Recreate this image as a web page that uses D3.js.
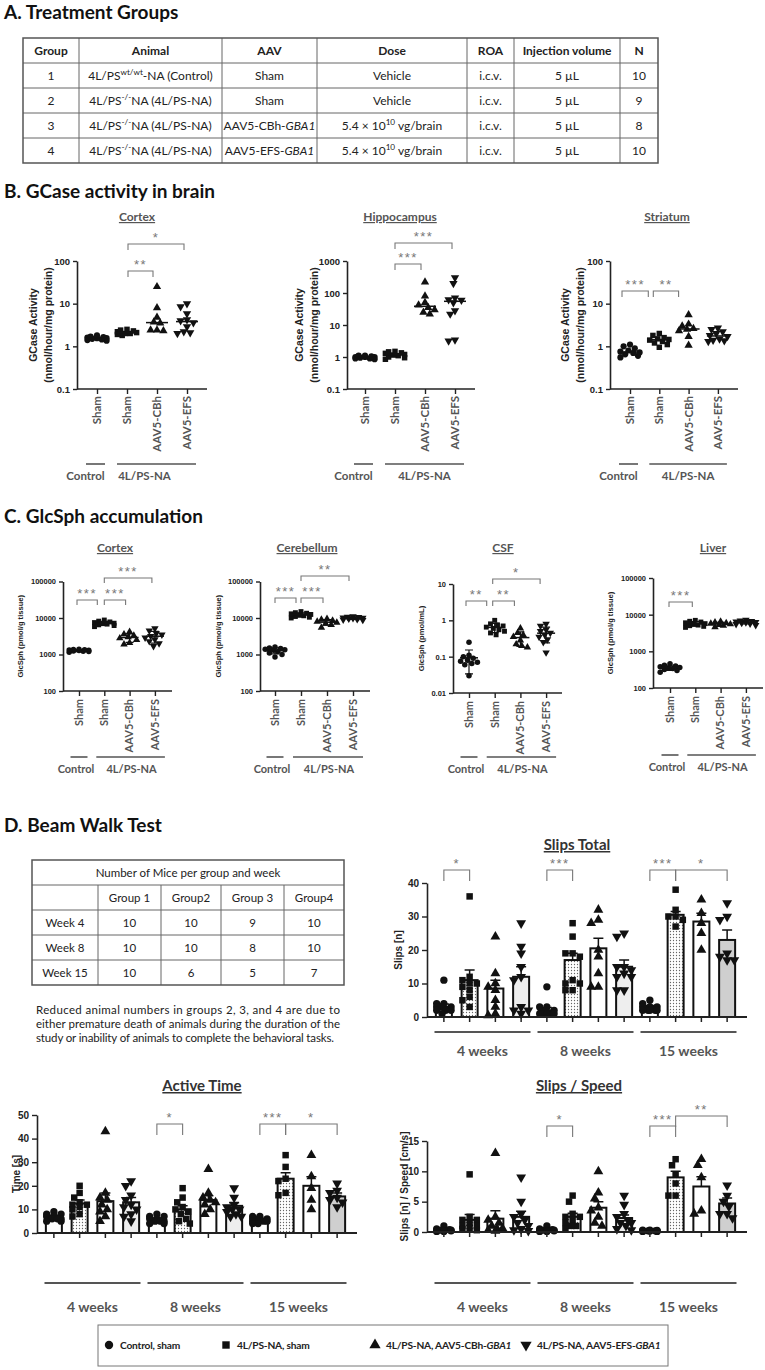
<!DOCTYPE html>
<html><head><meta charset="utf-8">
<script src="https://cdn.jsdelivr.net/npm/d3@7"></script>
<style>body{margin:0;background:#fff}svg{display:block}</style>
</head><body><script>
// ================= DATA =================
const sectionTitles = ["A. Treatment Groups","B. GCase activity in brain","C. GlcSph accumulation","D. Beam Walk Test"];

const tableAHeader = ["Group","Animal","AAV","Dose","ROA","Injection volume","N"];
const tableARows = [
  ["1","4L/PS^{wt/wt}-NA (Control)","Sham","Vehicle","i.c.v.","5 µL","10"],
  ["2","4L/PS^{-/-}NA (4L/PS-NA)","Sham","Vehicle","i.c.v.","5 µL","9"],
  ["3","4L/PS^{-/-}NA (4L/PS-NA)","AAV5-CBh-_GBA1_","5.4 × 10^{10} vg/brain","i.c.v.","5 µL","8"],
  ["4","4L/PS^{-/-}NA (4L/PS-NA)","AAV5-EFS-_GBA1_","5.4 × 10^{10} vg/brain","i.c.v.","5 µL","10"]
];

const tableDTitle = "Number of Mice per group and week";
const tableDHeader = ["","Group 1","Group2","Group 3","Group4"];
const tableDRows = [
  ["Week 4","10","10","9","10"],
  ["Week 8","10","10","8","10"],
  ["Week 15","10","6","5","7"]
];
const noteLines = [
  "Reduced animal  numbers in groups 2, 3, and 4 are  due to",
  "either premature death of animals during the duration of the",
  "study or inability of animals to complete the  behavioral tasks."
];

const catLabels = ["Sham","Sham","AAV5-CBh","AAV5-EFS"];
const groupLabels = ["Control","4L/PS-NA"];

// B. GCase activity (nmol/hour/mg protein)
const gcaseCortex = [
  [1.35,1.4,1.45,1.5,1.55,1.55,1.6,1.65,1.7,1.8],
  [1.8,1.9,2.0,2.0,2.1,2.2,2.3,2.4,2.5],
  [2.3,2.4,2.4,3.5,3.7,4.8,8.0,25],
  [2.0,2.1,2.2,2.9,3.6,4.0,4.2,5.8,8.5,10]
];
const gcaseHippocampus = [
  [0.85,0.9,0.9,0.95,1.0,1.0,1.0,1.05,1.1,1.1],
  [0.85,0.95,1.0,1.1,1.15,1.2,1.3,1.35,1.45,1.5],
  [22,25,30,35,42,50,80,220],
  [3.2,3.4,22,28,50,60,62,70,200,300]
];
const gcaseStriatum = [
  [0.55,0.6,0.65,0.7,0.72,0.75,0.8,0.9,1.0,1.1],
  [0.95,1.1,1.2,1.3,1.4,1.45,1.5,1.6,1.8,2.0],
  [1.05,1.7,2.3,2.5,2.6,3.0,3.3,5.5],
  [1.3,1.35,1.4,1.5,1.7,1.8,2.0,2.2,2.5,2.7]
];
const gcaseTicksCortex = [0.1,1,10,100];
const gcaseTicksHippocampus = [0.1,1,10,100,1000];
const gcaseTicksStriatum = [0.1,1,10,100];
const sigGcaseCortex = [[1,2,"**"],[1,3,"*"]];
const sigGcaseHippocampus = [[1,2,"***"],[1,3,"***"]];
const sigGcaseStriatum = [[0,1,"***"],[1,2,"**"]];

// C. GlcSph
const glcCortex = [
  [1150,1200,1220,1250,1280,1300,1320,1350,1380,1400],
  [5800,6200,6500,6800,7000,7200,7500,7800,8200,8800],
  [1900,2100,2500,2800,3000,3300,3600,4200],
  [1700,2000,2300,2600,2900,3200,3500,3800,4500,5200]
];
const glcCerebellum = [
  [850,1000,1100,1200,1300,1350,1400,1450,1500,1600],
  [10000,10500,11000,11500,12000,12500,13000,13500,14000,15000],
  [5500,6500,7000,7500,8000,8500,9000,9500],
  [8800,9000,9200,9500,9800,10000,10200,10500,10800,11000]
];
const glcCSF = [
  [0.03,0.06,0.065,0.07,0.075,0.08,0.09,0.1,0.11,0.25],
  [0.4,0.45,0.5,0.55,0.6,0.65,0.7,0.75,0.8,1.0],
  [0.18,0.2,0.22,0.28,0.35,0.4,0.45,0.6],
  [0.13,0.25,0.3,0.35,0.4,0.45,0.5,0.55,0.7,0.8]
];
const glcLiver = [
  [270,300,320,340,350,360,380,400,420,460],
  [4500,4800,5000,5200,5500,5700,6000,6300,6600,7000],
  [4600,5000,5300,5500,5700,5900,6200,6500],
  [5200,5500,5700,5900,6100,6300,6500,6700,6900,7200]
];
const glcTicksTissue = [100,1000,10000,100000];
const glcTicksCSF = [0.01,0.1,1,10];
const sigGlcCortex = [[0,1,"***"],[1,2,"***"],[1,3,"***"]];
const sigGlcCerebellum = [[0,1,"***"],[1,2,"***"],[1,3,"**"]];
const sigGlcCSF = [[0,1,"**"],[1,2,"**"],[1,3,"*"]];
const sigGlcLiver = [[0,1,"***"]];

// D. Beam walk (rows = weeks, columns = groups)
const weekLabels = ["4 weeks","8 weeks","15 weeks"];
const slipsMean = [[3,11,8.5,12],[2,17,20.5,15],[3,30.5,28.5,23]];
const slipsSem  = [[0.9,3,2.5,3],[0.8,2,3,2],[0.4,1,2.5,3]];
const slipsPts = [
  [[11,4,4,3,3,3,2,2,2,1],[36,12,11,10,10,9,8,6,5,3],[24,13,10,9,8,5,3,1,0.5],[28,21,19,15,12,11,3,2,2,1]],
  [[9,3,3,2,2,1,1,1,1,1],[28,24,19,19,18,11,10,10,8,8],[32,29,28,20,18,13,9,9],[25,24,15,15,14,13,12,12,8,8]],
  [[5,4,3,3,3,2,2,2,2,2],[38,32,30,30,29,27],[35,31,28,25,20],[34,30,29,19,18,17,17]]
];
const timeMean = [[7,12.5,13.5,13],[6,10,14,11.5],[5.5,23,20,15.5]];
const timeSem  = [[0.5,1.5,3.5,2],[0.4,1.5,1.8,1.3],[0.3,2.5,3.8,1.5]];
const timePts = [
  [[9,8,8,7,7,6,6,6,5,5],[20,17,15,13,12,12,11,10,8,7],[43,17,15,14,12,10,9,7,5],[22,20,16,14,12,11,10,8,7,5]],
  [[8,7,7,6,6,5,5,5,4,4],[19,15,13,11,10,9,8,6,5,4],[27,17,15,14,13,12,10,8],[19,15,12,11,10,10,9,8,7,7]],
  [[7,7,6,6,6,5,5,5,4,4],[33,28,23,22,17,16],[33,24,19,14,10],[21,18,17,15,14,13,11]]
];
const ssMean = [[0.3,2,2.2,2.5],[0.3,2.5,4,2.3],[0.2,9,7.5,4.7]];
const ssSem  = [[0.1,0.9,1.3,0.9],[0.1,0.6,1,0.5],[0.03,1,1.6,0.9]];
const ssPts = [
  [[1,0.5,0.4,0.3,0.3,0.2,0.2,0.2,0.1,0.1],[9.5,2.5,2,2,1.5,1,1,0.7,0.5,0.3],[13,2.5,2,1.5,1,0.6,0.5,0.3,0.2],[9,5,3,2.5,2,1.5,1,0.5,0.3,0.2]],
  [[1,0.5,0.4,0.3,0.3,0.2,0.2,0.2,0.1,0.1],[6,5,3,2.5,2.5,2,1.5,1,1,0.5],[10,6.5,5.5,4,3.5,2.5,1.5,1],[6,4.5,3,2.5,2,1.5,1.5,1,0.5,0.3]],
  [[0.3,0.3,0.25,0.2,0.2,0.2,0.15,0.15,0.1,0.1],[12,11,9.5,8,6,6],[12,11,9,3.5,3],[7.7,6,5,4.2,3,3,2.3]]
];
const slipsTicks = [0,10,20,30,40];
const timeTicks = [0,10,20,30,40,50];
const ssTicks = [0,5,10,15];
const sigSlips = [[0,1,"*"],[4,5,"***"],[8,9,"***"],[9,11,"*"]];
const sigTime = [[4,5,"*"],[8,9,"***"],[9,11,"*"]];
const sigSS = [[4,5,"*"],[8,9,"***"],[9,11,"**"]];

const legendLabels = ["Control, sham","4L/PS-NA, sham","4L/PS-NA, AAV5-CBh-_GBA1_","4L/PS-NA, AAV5-EFS-_GBA1_"];

// ================= RENDER =================
const FT = "Lato, 'Open Sans', sans-serif";
const FA = "'Liberation Sans', Arial, sans-serif";
const svg = d3.select("body").append("svg").attr("width",765).attr("height",1370);
svg.append("rect").attr("width",765).attr("height",1370).attr("fill","#fff");
const defs = svg.append("defs");
const pat = defs.append("pattern").attr("id","dots").attr("width",3).attr("height",3).attr("patternUnits","userSpaceOnUse");
pat.append("rect").attr("width",3).attr("height",3).attr("fill","#fff");
pat.append("circle").attr("cx",1.5).attr("cy",1.5).attr("r",0.65).attr("fill","#666");

const symTypes = [d3.symbolCircle,d3.symbolSquare,d3.symbolTriangle,d3.symbolTriangle];

function rich(sel, str, fs){
  const parts = str.split(/(\^\{[^}]*\}|_[^_]+_)/).filter(s=>s.length);
  let shifted = false;
  parts.forEach(p=>{
    if(p.startsWith("^{")){
      sel.append("tspan").attr("dy",-fs*0.38).attr("font-size",fs*0.68).text(p.slice(2,-1));
      shifted = true;
    } else {
      const t = sel.append("tspan");
      if(shifted){ t.attr("dy",fs*0.38); shifted=false; }
      if(p.startsWith("_")) t.attr("font-style","italic").text(p.slice(1,-1));
      else t.text(p);
    }
  });
}

// section titles
const titleY = [19,198,523,832];
sectionTitles.forEach((t,i)=>svg.append("text").attr("x",4).attr("y",titleY[i])
  .attr("font-family",FT).attr("font-weight","bold").attr("font-size",19).attr("fill","#111").text(t));

// ---- Table A ----
(function(){
  const colX=[23,79,222,317,467,514,620,658];
  const y0=38, rh=25, fs=12;
  const g=svg.append("g").attr("font-family",FT).attr("font-size",fs).attr("fill","#222");
  const rows=[tableAHeader,...tableARows];
  rows.forEach((r,ri)=>r.forEach((c,ci)=>{
    const t=g.append("text").attr("x",(colX[ci]+colX[ci+1])/2).attr("y",y0+ri*rh+rh/2+4)
      .attr("text-anchor","middle").attr("font-weight",ri===0?"bold":"normal");
    rich(t,c,fs);
  }));
  for(let i=1;i<rows.length;i++) g.append("line").attr("x1",colX[0]).attr("x2",colX[7]).attr("y1",y0+i*rh).attr("y2",y0+i*rh).attr("stroke","#666").attr("stroke-width",1);
  for(let i=1;i<colX.length-1;i++) g.append("line").attr("x1",colX[i]).attr("x2",colX[i]).attr("y1",y0).attr("y2",y0+rows.length*rh).attr("stroke","#666").attr("stroke-width",1);
  g.append("rect").attr("x",colX[0]).attr("y",y0).attr("width",colX[7]-colX[0]).attr("height",rows.length*rh).attr("fill","none").attr("stroke","#555").attr("stroke-width",1.5);
})();

// ---- Table D ----
(function(){
  const colX=[32,98,161,221,284,344];
  const y0=860, rh=25, fs=11.5;
  const g=svg.append("g").attr("font-family",FT).attr("font-size",fs).attr("fill","#222");
  g.append("text").attr("x",(colX[0]+colX[5])/2).attr("y",y0+rh/2+4).attr("text-anchor","middle").text(tableDTitle);
  const rows=[tableDHeader,...tableDRows];
  rows.forEach((r,ri)=>r.forEach((c,ci)=>{
    g.append("text").attr("x",(colX[ci]+colX[ci+1])/2).attr("y",y0+(ri+1)*rh+rh/2+4).attr("text-anchor","middle").text(c);
  }));
  for(let i=1;i<=rows.length;i++) g.append("line").attr("x1",colX[0]).attr("x2",colX[5]).attr("y1",y0+i*rh).attr("y2",y0+i*rh).attr("stroke","#666");
  for(let i=1;i<colX.length-1;i++) g.append("line").attr("x1",colX[i]).attr("x2",colX[i]).attr("y1",y0+rh).attr("y2",y0+(rows.length+1)*rh).attr("stroke","#666");
  g.append("rect").attr("x",colX[0]).attr("y",y0).attr("width",colX[5]-colX[0]).attr("height",(rows.length+1)*rh).attr("fill","none").attr("stroke","#555").attr("stroke-width",1.5);
  const lens=[304,304,298];
  noteLines.forEach((l,i)=>g.append("text").attr("x",36).attr("y",1014+i*14).attr("font-size",11.5)
    .attr("textLength",lens[i]).attr("lengthAdjust","spacing").text(l));
})();

// ---- helpers ----
function swarm(vals, y, cx, r, maxDx){
  const order = vals.map((v,i)=>({v,i,py:y(v)})).sort((a,b)=>a.py-b.py);
  const placed=[], out=[];
  const md = 2*r*0.9;
  for(const p of order){
    let best=0, bestScore=Infinity;
    for(let k=0;k<=24;k++){
      for(const s of (k===0?[0]:[-1,1])){
        const dx=s*k*r*0.5;
        if(Math.abs(dx)>maxDx) continue;
        let ov=0;
        for(const q of placed){const d=Math.hypot(q.x-(cx+dx),q.y-p.py); if(d<md) ov+=md-d;}
        const sc=ov*10+Math.abs(dx)*0.05;
        if(sc<bestScore){bestScore=sc;best=dx;}
      }
    }
    placed.push({x:cx+best,y:p.py});
    out[p.i]={x:cx+best,y:p.py,v:p.v};
  }
  return out;
}
function drawMarkers(g, pos, k, size){
  g.selectAll(null).data(pos).join("path")
    .attr("d",d3.symbol(symTypes[k],size))
    .attr("transform",d=>`translate(${d.x},${d.y})${k===3?" rotate(180)":""}`)
    .attr("fill","#111");
}
function bracket(g,x1,x2,yb,leg,label,fs){
  g.append("path").attr("d",`M${x1},${yb+leg}V${yb}H${x2}V${yb+leg}`).attr("fill","none").attr("stroke","#777").attr("stroke-width",1.1);
  g.append("text").attr("x",(x1+x2)/2).attr("y",yb-2).attr("text-anchor","middle").attr("font-family",FA)
    .attr("font-size",fs||13).attr("letter-spacing",1.5).attr("fill","#777").text(label);
}
function styleAxis(a, fs){
  a.select(".domain").attr("stroke","#222").attr("stroke-width",1.6);
  a.selectAll(".tick line").attr("stroke","#222").attr("stroke-width",1.4);
  a.selectAll(".tick text").attr("font-family",FA).attr("font-weight","bold").attr("font-size",fs).attr("fill","#222");
}
const logFmt = v => v<1 ? String(v) : d3.format("d")(v);

function scatterPanel(L, title, vals, sigs, ticks, ylab){
  const g=svg.append("g");
  const y=d3.scaleLog().domain([ticks[0],ticks[ticks.length-1]]).range([L.yBot,L.yTop]);
  const x=d3.scalePoint().domain(d3.range(vals.length)).range([L.cat0,L.cat0+L.step*(vals.length-1)]);
  g.append("text").attr("x",L.titleX).attr("y",L.titleY).attr("text-anchor","middle").attr("font-family",FT)
    .attr("font-weight","bold").attr("font-size",L.titleFs).attr("fill","#555").attr("text-decoration","underline").text(title);
  vals.forEach((arr,k)=>{
    const pos=swarm(arr,y,x(k),L.r,L.maxDx);
    drawMarkers(g,pos,k,L.size);
    const c = L.stat==="median" ? d3.median(arr) : d3.mean(arr);
    g.append("line").attr("x1",x(k)-L.lineW/2).attr("x2",x(k)+L.lineW/2).attr("y1",y(c)).attr("y2",y(c)).attr("stroke","#111").attr("stroke-width",1.5);
    if(L.stat==="mean"){
      const sd=d3.deviation(arr);
      const lo=Math.max(c-sd,ticks[0]), hi=c+sd;
      g.append("path").attr("d",`M${x(k)},${y(lo)}V${y(hi)}M${x(k)-4},${y(lo)}H${x(k)+4}M${x(k)-4},${y(hi)}H${x(k)+4}`)
        .attr("stroke","#111").attr("stroke-width",1.2).attr("fill","none");
    }
  });
  const ya=g.append("g").attr("transform",`translate(${L.axisX},0)`)
    .call(d3.axisLeft(y).tickValues(ticks).tickFormat(logFmt).tickSize(4).tickSizeOuter(0));
  styleAxis(ya,L.tickFs);
  g.append("line").attr("x1",L.axisX).attr("x2",L.xEnd).attr("y1",L.yBot).attr("y2",L.yBot).attr("stroke","#222").attr("stroke-width",1.6);
  const xa=g.append("g").attr("transform",`translate(0,${L.yBot})`).call(d3.axisBottom(x).tickSize(5).tickFormat(""));
  xa.select(".domain").remove();
  xa.selectAll(".tick line").attr("stroke","#222").attr("stroke-width",1.4);
  catLabels.forEach((c,i)=>g.append("text").attr("transform",`translate(${x(i)},${L.yBot+L.catGap}) rotate(-90)`)
    .attr("dy","0.35em").attr("text-anchor","end").attr("font-family",FT).attr("font-weight","bold")
    .attr("font-size",L.catFs).attr("fill","#555").text(c));
  const gl=[[x(0)+L.gl[0],x(0)+L.gl[1]],[x(1)+L.gl[2],x(3)+L.gl[3]]];
  gl.forEach((s,i)=>{
    g.append("line").attr("x1",s[0]).attr("x2",s[1]).attr("y1",L.glY).attr("y2",L.glY).attr("stroke","#555").attr("stroke-width",1.6);
    g.append("text").attr("x",(s[0]+s[1])/2+L.glOff[i]).attr("y",L.glY+16).attr("text-anchor","middle").attr("font-family",FT)
      .attr("font-weight","bold").attr("font-size",L.glFs).attr("fill","#555").text(groupLabels[i]);
  });
  sigs.forEach(([i,j,lab],n)=>{const b=L.br[n]; bracket(g,x(i)+b[1],x(j)+b[2],b[0],L.leg,lab);});
  const yc=(L.yTop+L.yBot)/2;
  ylab.forEach((t,i)=>g.append("text").attr("transform",`translate(${L.ylabX[i]},${yc}) rotate(-90)`).attr("dy","0.35em")
    .attr("text-anchor","middle").attr("font-family",FA).attr("font-weight","bold").attr("font-size",L.ylabFs).attr("fill","#222").text(t));
}

// Panel B
const Bbase={yTop:261,yBot:389,step:30,titleY:221,titleFs:12,tickFs:9.5,catGap:7,catFs:11.5,glY:464,glFs:11.5,
  gl:[-11,8,-10,9],glOff:[-10,0],r:3.2,maxDx:11,size:30,lineW:22,stat:"median",leg:6,ylabFs:10.5};
const gcaseYlab=["GCase Activity","(nmol/hour/mg protein)"];
scatterPanel({...Bbase,axisX:77,cat0:97,xEnd:207,titleX:137,glOff:[-10,-12],ylabX:[33,48],
  br:[[271,1,-4],[244,1,-3]]},"Cortex",gcaseCortex,sigGcaseCortex,gcaseTicksCortex,gcaseYlab);
scatterPanel({...Bbase,axisX:347,cat0:365,xEnd:475,titleX:400,ylabX:[299,314],
  br:[[264,0,-4],[243,0,-3]]},"Hippocampus",gcaseHippocampus,sigGcaseHippocampus,gcaseTicksHippocampus,gcaseYlab);
scatterPanel({...Bbase,axisX:610,cat0:630,step:29.3,xEnd:738,titleX:667,ylabX:[565,580],
  br:[[291,-8,-11],[291,-6,-10]]},"Striatum",gcaseStriatum,sigGcaseStriatum,gcaseTicksStriatum,gcaseYlab);

// Panel C
const Cbase={yTop:581.5,yBot:691,step:25.3,titleY:552,titleFs:12,tickFs:7.5,catGap:8,catFs:11,glY:757,glFs:11,
  gl:[-8.5,8.5,-8,10],glOff:[-3,1],r:2.8,maxDx:10,size:24,lineW:18,stat:"mean",leg:5,ylabFs:7.6};
scatterPanel({...Cbase,axisX:63,cat0:79,xEnd:172,titleX:115,ylabX:[20],
  br:[[600,-2,-7],[600,0,-4],[578,0,-3]]},"Cortex",glcCortex,sigGlcCortex,glcTicksTissue,["GlcSph (pmol/g tissue)"]);
scatterPanel({...Cbase,axisX:260,cat0:275,step:26,xEnd:370,titleX:307,ylabX:[218],
  br:[[598,0,-5],[598,0,-4],[576,0,-4]]},"Cerebellum",glcCerebellum,sigGlcCerebellum,glcTicksTissue,["GlcSph (pmol/g tissue)"]);
scatterPanel({...Cbase,axisX:453,cat0:469,step:25.7,yTop:584,yBot:693,xEnd:562,titleX:503,ylabX:[421],
  br:[[601,-3,-8],[601,-2,-6],[579,-2,-6]]},"CSF",glcCSF,sigGlcCSF,glcTicksCSF,["GlcSph (pmol/mL)"]);
scatterPanel({...Cbase,axisX:653,cat0:670,yTop:578,yBot:688,glY:755,xEnd:763,titleX:713,ylabX:[610],
  br:[[602,-1,-3]]},"Liver",glcLiver,sigGlcLiver,glcTicksTissue,["GlcSph (pmol/g tissue)"]);

// Panel D bar charts
const efsFill=["#eeeeee","#eeeeee","#cfcfcf"];
function barChart(L,title,means,sems,pts,sigs,ticks,ylab){
  const g=svg.append("g");
  const x=d3.scaleBand().domain(d3.range(12)).range(L.xRange);
  const cx=i=>x(i)+x.bandwidth()/2;
  const y=d3.scaleLinear().domain([ticks[0],ticks[ticks.length-1]]).range([L.yBot,L.yTop]);
  g.append("text").attr("x",L.titleX).attr("y",L.titleY).attr("text-anchor","middle").attr("font-family",FT)
    .attr("font-weight","bold").attr("font-size",15).attr("fill","#333").attr("text-decoration","underline").text(title);
  const flat=[];
  means.forEach((row,w)=>row.forEach((m,k)=>flat.push({w,k,i:w*4+k,m,s:sems[w][k],p:pts[w][k]})));
  const bw=16;
  g.selectAll(null).data(flat).join("rect")
    .attr("x",d=>cx(d.i)-bw/2).attr("width",bw).attr("y",d=>y(d.m)).attr("height",d=>y(0)-y(d.m))
    .attr("fill",d=>d.k===1?"url(#dots)":d.k===3?efsFill[d.w]:"#fff").attr("stroke","#111").attr("stroke-width",2);
  g.selectAll(null).data(flat).join("path")
    .attr("d",d=>`M${cx(d.i)},${y(d.m)}V${y(d.m+d.s)}M${cx(d.i)-5},${y(d.m+d.s)}H${cx(d.i)+5}`)
    .attr("stroke","#111").attr("stroke-width",1.5).attr("fill","none");
  flat.forEach(d=>drawMarkers(g,swarm(d.p,y,cx(d.i),3.6,8),d.k,42));
  const ya=g.append("g").attr("transform",`translate(${L.axisX},0)`)
    .call(d3.axisLeft(y).tickValues(ticks).tickSize(5).tickSizeOuter(0));
  styleAxis(ya,10);
  g.append("line").attr("x1",L.axisX).attr("x2",L.xEnd).attr("y1",L.yBot).attr("y2",L.yBot).attr("stroke","#222").attr("stroke-width",2);
  const xa=g.append("g").attr("transform",`translate(0,${L.yBot})`).call(d3.axisBottom(x).tickSize(5).tickFormat(""));
  xa.select(".domain").remove();
  xa.selectAll(".tick line").attr("stroke","#222").attr("stroke-width",1.5);
  weekLabels.forEach((wl,w)=>{
    const c=(cx(w*4)+cx(w*4+3))/2;
    g.append("line").attr("x1",c-48).attr("x2",c+48).attr("y1",L.lineY).attr("y2",L.lineY).attr("stroke","#555").attr("stroke-width",2);
    g.append("text").attr("x",c).attr("y",L.labY).attr("text-anchor","middle").attr("font-family",FT).attr("font-weight","bold")
      .attr("font-size",14).attr("fill","#555").text(wl);
  });
  sigs.forEach(([i,j,lab],n)=>bracket(g,cx(i),cx(j),L.br[n],11,lab));
  g.append("text").attr("transform",`translate(${L.ylabX},${(L.yTop+L.yBot)/2}) rotate(-90)`).attr("dy","0.35em")
    .attr("text-anchor","middle").attr("font-family",FA).attr("font-weight","bold").attr("font-size",10).attr("fill","#222").text(ylab);
}
barChart({xRange:[431,740],axisX:427,xEnd:747,yBot:1017,yTop:883,lineY:1032,labY:1056,titleX:577,titleY:850,ylabX:398,
  br:[870,870,870,870]},"Slips Total",slipsMean,slipsSem,slipsPts,sigSlips,slipsTicks,"Slips [n]");
barChart({xRange:[41,350],axisX:37,xEnd:357,yBot:1233,yTop:1115,lineY:1283,labY:1312,titleX:202,titleY:1091,ylabX:16,
  br:[1124,1124,1124]},"Active Time",timeMean,timeSem,timePts,sigTime,timeTicks,"Time [s]");
barChart({xRange:[431,740],axisX:427,xEnd:747,yBot:1232,yTop:1141,lineY:1283,labY:1312,titleX:579,titleY:1091,ylabX:404,
  br:[1126,1126,1116]},"Slips / Speed",ssMean,ssSem,ssPts,sigSS,ssTicks,"Slips [n] / Speed [cm/s]");

// Legend
(function(){
  const g=svg.append("g");
  g.append("rect").attr("x",98).attr("y",1325).attr("width",570).attr("height",41).attr("fill","#fff").attr("stroke","#777").attr("stroke-width",1);
  const mx=[109,226,375,526];
  legendLabels.forEach((l,k)=>{
    drawMarkers(g,[{x:mx[k],y:1345}],k,55);
    const t=g.append("text").attr("x",mx[k]+11).attr("y",1349).attr("font-family",FT).attr("font-weight","bold")
      .attr("font-size",10.2).attr("letter-spacing",-0.2).attr("fill","#222");
    rich(t,l,10.2);
  });
})();
</script></body></html>
